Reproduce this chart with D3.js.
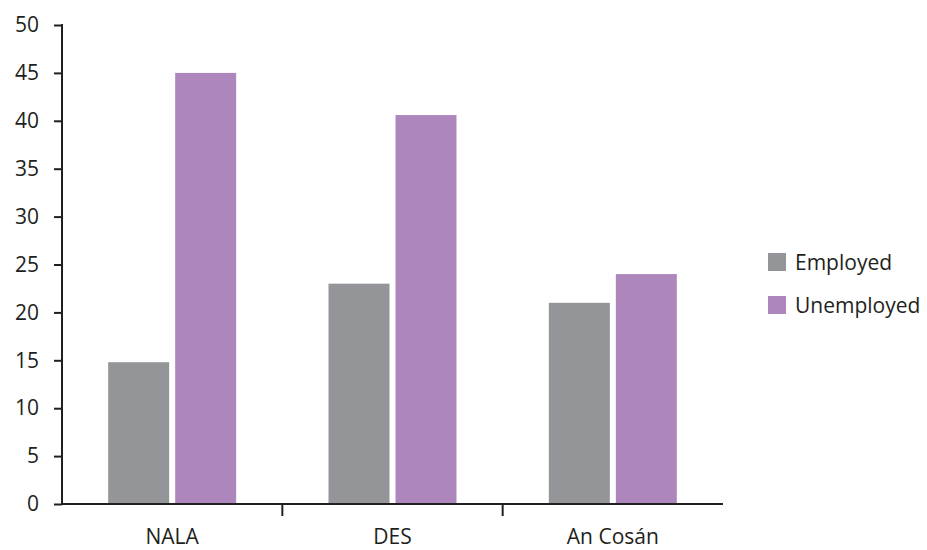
<!DOCTYPE html>
<html><head><meta charset="utf-8">
<script src="https://cdn.jsdelivr.net/npm/d3@7"></script>
<style>body{margin:0;background:#fff}svg{display:block}text{font-family:"Open Sans",sans-serif;fill:#231f20}</style>
</head><body><svg id="c" width="927" height="550"></svg>
<script>
const categories = ["NALA", "DES", "An Cosán"];
const seriesNames = ["Employed", "Unemployed"];
const employed = [14.8, 23, 21];
const unemployed = [45, 40.6, 24];
const yTicks = [0, 5, 10, 15, 20, 25, 30, 35, 40, 45, 50];
const colors = ["#939598", "#ad87bb"];
const FS = "21px";

const svg = d3.select("#c");
const x0 = d3.scaleBand().domain(categories).range([62, 723]).paddingInner(0).paddingOuter(0);
const y = d3.scaleLinear().domain([0, 50]).range([504, 25]);
const bw = 61, gap = 6;
const x1 = d3.scaleOrdinal().domain(seriesNames).range([0, bw + gap]);

const data = categories.map((c, i) => ({c, vals: [employed[i], unemployed[i]]}));
const g = svg.append("g");
data.forEach(d => {
  const start = x0(d.c) + (x0.bandwidth() - (2 * bw + gap)) / 2;
  d.vals.forEach((v, j) => {
    g.append("rect").attr("x", start + x1(seriesNames[j])).attr("width", bw)
      .attr("y", y(v)).attr("height", y(0) - y(v)).attr("fill", colors[j]);
  });
});

// y axis
const ya = svg.append("g").attr("transform", "translate(62,0)")
  .call(d3.axisLeft(y).tickValues(yTicks).tickSize(8).tickPadding(15).tickSizeOuter(0));
ya.select(".domain").attr("stroke", "#231f20").attr("stroke-width", 2).attr("d", "M0,24V505");
ya.selectAll(".tick line").attr("stroke", "#231f20").attr("stroke-width", 2);
ya.selectAll(".tick text").style("font-size", FS).attr("fill", "#231f20");

// x axis
const xa = svg.append("g").attr("transform", "translate(0,504)")
  .call(d3.axisBottom(x0).tickSize(0).tickPadding(25));
xa.select(".domain").attr("stroke", "#231f20").attr("stroke-width", 2).attr("d", "M61,0H723");
xa.selectAll(".tick text").style("font-size", FS).attr("fill", "#231f20");
// category separators
const seps = categories.slice(1).map(c => x0(c));
svg.selectAll("line.sep").data(seps).enter().append("line")
  .attr("x1", d => d).attr("x2", d => d).attr("y1", 504).attr("y2", 516)
  .attr("stroke", "#231f20").attr("stroke-width", 2);

// legend
const lg = svg.append("g").attr("transform", "translate(768,253)");
seriesNames.forEach((s, i) => {
  const r = lg.append("g").attr("transform", `translate(0,${i * 43})`);
  r.append("rect").attr("width", 18).attr("height", 18).attr("fill", colors[i]);
  r.append("text").attr("x", 27).attr("y", 10).attr("dy", "0.35em").style("font-size", FS).text(s);
});
</script></body></html>
